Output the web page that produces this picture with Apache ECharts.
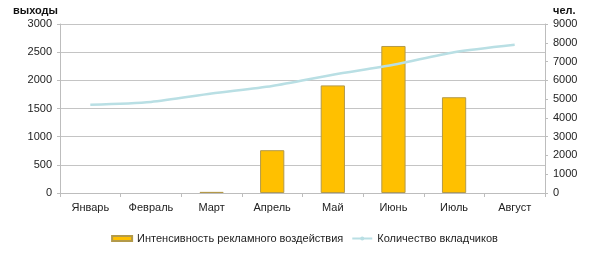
<!DOCTYPE html>
<html><head><meta charset="utf-8">
<script src="https://cdn.jsdelivr.net/npm/echarts@6/dist/echarts.min.js"></script>
<style>html,body{margin:0;padding:0;background:#fff}#c{width:609px;height:273px}</style>
</head><body><div id="c"></div>
<script>
const months = ['Январь','Февраль','Март','Апрель','Май','Июнь','Июль','Август'];
const advIntensity = [0, 0, 20, 760, 1910, 2610, 1700, 0];
const depositors = [4700, 4850, 5300, 5700, 6300, 6830, 7500, 7900];
const leftTicks = {min: 0, max: 3000, interval: 500};
const rightTicks = {min: 0, max: 9000, interval: 1000};

const font = 'Liberation Sans, Arial, sans-serif';
const plain = v => String(v);
const chart = echarts.init(document.getElementById('c'), null, {renderer: 'canvas'});
chart.setOption({
  animation: false,
  textStyle: {fontFamily: font},
  grid: {left: 60, right: 64, top: 24, bottom: 80, containLabel: false},
  legend: {
    top: 228, left: 'center', itemWidth: 20, itemHeight: 5, itemGap: 8,
    textStyle: {fontSize: 11, color: '#222', fontFamily: font},
    data: [
      {name: 'Интенсивность рекламного воздействия', icon: 'rect'},
      {name: 'Количество вкладчиков'}
    ]
  },
  xAxis: {
    type: 'category', data: months, boundaryGap: true,
    axisLine: {lineStyle: {color: '#bdbdbd'}},
    axisTick: {show: true, length: 4, alignWithLabel: false, lineStyle: {color: '#bdbdbd'}},
    axisLabel: {fontSize: 11, color: '#222', margin: 9, interval: 0}
  },
  yAxis: [
    {
      type: 'value', min: leftTicks.min, max: leftTicks.max, interval: leftTicks.interval,
      name: 'выходы', nameLocation: 'end', nameGap: 8,
      nameTextStyle: {fontSize: 11, fontWeight: 'bold', color: '#111', align: 'right', padding: [0, 2, 0, 0]},
      axisLine: {show: true, lineStyle: {color: '#bdbdbd'}},
      axisTick: {show: true, length: 3, lineStyle: {color: '#bdbdbd'}},
      axisLabel: {fontSize: 11, color: '#222', margin: 8, formatter: plain},
      splitLine: {show: true, lineStyle: {color: '#c4c4c4'}}
    },
    {
      type: 'value', min: rightTicks.min, max: rightTicks.max, interval: rightTicks.interval,
      name: 'чел.', nameLocation: 'end', nameGap: 8,
      nameTextStyle: {fontSize: 11, fontWeight: 'bold', color: '#111', align: 'left', padding: [0, 0, 0, 8]},
      axisLine: {show: true, lineStyle: {color: '#bdbdbd'}},
      axisTick: {show: true, length: 3, lineStyle: {color: '#bdbdbd'}},
      axisLabel: {fontSize: 11, color: '#222', margin: 8, formatter: plain},
      splitLine: {show: false}
    }
  ],
  series: [
    {
      name: 'Интенсивность рекламного воздействия', type: 'bar', yAxisIndex: 0,
      data: advIntensity.map(v => v === 0 ? null : v), barWidth: '40%',
      itemStyle: {color: '#FFC000', borderColor: '#B39A4A', borderWidth: 1}
    },
    {
      name: 'Количество вкладчиков', type: 'line', yAxisIndex: 1,
      data: depositors, symbol: 'none', smooth: 0.25,
      lineStyle: {color: '#B9DFE4', width: 2.5},
      itemStyle: {color: '#B9DFE4'}
    }
  ]
});
</script></body></html>
